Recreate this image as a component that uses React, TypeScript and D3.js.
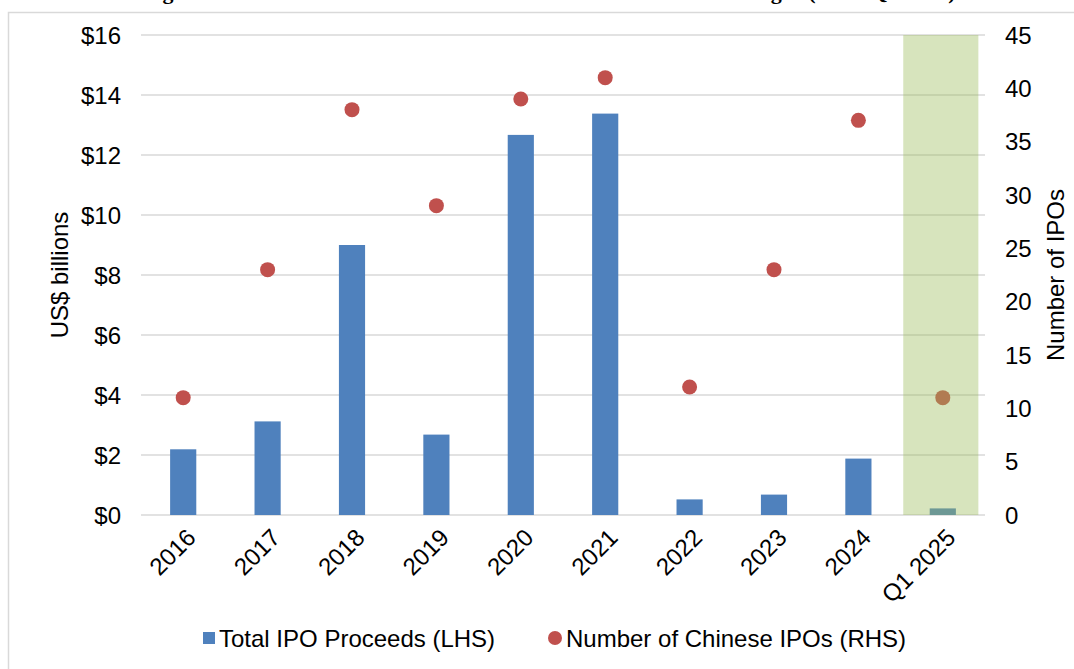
import { useEffect, useRef } from 'react';
import * as d3 from 'd3';

// values
const years = ['2016', '2017', '2018', '2019', '2020', '2021', '2022', '2023', '2024', 'Q1 2025'];
const proceeds = [2.19, 3.12, 9.0, 2.68, 12.67, 13.38, 0.52, 0.68, 1.88, 0.22]; // US$ bn (LHS)
const ipoCount = [11, 23, 38, 29, 39, 41, 12, 23, 37, 11]; // number of IPOs (RHS)
const leftTicks = [0, 2, 4, 6, 8, 10, 12, 14, 16];
const rightTicks = [0, 5, 10, 15, 20, 25, 30, 35, 40, 45];
const highlighted = ['Q1 2025'];

const W = 1074;
const H = 669;
const FONT = '"Liberation Sans", Arial, sans-serif';

export default function App() {
  const svgRef = useRef<SVGSVGElement | null>(null);

  useEffect(() => {
    const svg = d3.select(svgRef.current);
    svg.selectAll('*').remove();

    const m = { top: 35, right: 89, bottom: 154, left: 141 };
    const x0 = m.left, x1 = W - m.right;
    const y0 = H - m.bottom, y1 = m.top;

    const x = d3.scaleBand<string>().domain(years).range([x0, x1])
      .paddingInner(0.69).paddingOuter(0.345);
    const xShade = d3.scaleBand<string>().domain(years).range([x0 - 2, x1 - 2])
      .paddingInner(0.11).paddingOuter(0.055);
    const yL = d3.scaleLinear().domain([0, 16]).range([y0, y1]);
    const yR = d3.scaleLinear().domain([0, 45]).range([y0, y1]);

    // outer frame (cut by the page edge)
    svg.append('rect')
      .attr('x', 8.5).attr('y', 12.5).attr('width', W + 20).attr('height', H + 20)
      .attr('fill', 'none').attr('stroke', '#D9D9D9').attr('stroke-width', 1.5);

    // title, mostly above the visible area
    const title = svg.append('text')
      .attr('x', 143).attr('y', -1.5)
      .attr('font-family', '"Liberation Serif", "Times New Roman", serif')
      .attr('font-weight', 700).attr('font-size', 22).attr('fill', '#000');
    title.append('tspan').text('Figure 1: Chinese IPOs in the U.S.: Proceeds and Number of Listings');
    title.append('tspan').attr('dx', 18).text('(2016–Q1 2025)');

    // gridlines
    svg.append('g').selectAll('line').data(leftTicks).join('line')
      .attr('x1', x0).attr('x2', x1)
      .attr('y1', d => yL(d)).attr('y2', d => yL(d))
      .attr('stroke', '#D9D9D9').attr('stroke-width', 1.5);

    // bars
    svg.append('g').selectAll('rect').data(years).join('rect')
      .attr('x', d => x(d)!)
      .attr('width', x.bandwidth())
      .attr('y', (_, i) => yL(proceeds[i]))
      .attr('height', (_, i) => yL(0) - yL(proceeds[i]))
      .attr('fill', '#4F81BD');

    // dots
    svg.append('g').selectAll('circle').data(years).join('circle')
      .attr('cx', d => x(d)! + x.bandwidth() / 2)
      .attr('cy', (_, i) => yR(ipoCount[i]))
      .attr('r', 7.5)
      .attr('fill', '#C0504D');

    // highlight band
    svg.append('g').selectAll('rect').data(highlighted).join('rect')
      .attr('x', d => xShade(d)!)
      .attr('width', xShade.bandwidth())
      .attr('y', yR(45))
      .attr('height', yR(0) - yR(45))
      .attr('fill', '#9BBB59').attr('fill-opacity', 0.4);

    // left axis labels
    svg.append('g').selectAll('text').data(leftTicks).join('text')
      .attr('x', 121).attr('y', d => yL(d))
      .attr('dy', '0.36em').attr('text-anchor', 'end')
      .attr('font-family', FONT).attr('font-size', 24).attr('fill', '#000')
      .text(d => `$${d}`);

    // right axis labels
    svg.append('g').selectAll('text').data(rightTicks).join('text')
      .attr('x', 1005).attr('y', d => yR(d))
      .attr('dy', '0.36em').attr('text-anchor', 'start')
      .attr('font-family', FONT).attr('font-size', 24).attr('fill', '#000')
      .text(d => String(d));

    // category labels
    svg.append('g').selectAll('text').data(years).join('text')
      .attr('transform', d => `translate(${x(d)! + x.bandwidth() / 2 + 8},${y0 + 18}) rotate(-45)`)
      .attr('text-anchor', 'end').attr('dy', '0.36em')
      .attr('font-family', FONT).attr('font-size', 24).attr('fill', '#000')
      .text(d => d);

    // axis titles
    const midY = (y0 + y1) / 2;
    svg.append('text')
      .attr('transform', `translate(59,${midY}) rotate(-90)`)
      .attr('text-anchor', 'middle').attr('dominant-baseline', 'central')
      .attr('font-family', FONT).attr('font-size', 24).attr('fill', '#000')
      .text('US$ billions');
    svg.append('text')
      .attr('transform', `translate(1055,${midY}) rotate(-90)`)
      .attr('text-anchor', 'middle').attr('dominant-baseline', 'central')
      .attr('font-family', FONT).attr('font-size', 24).attr('fill', '#000')
      .text('Number of IPOs');

    // legend
    const lg = svg.append('g').attr('font-family', FONT).attr('font-size', 24).attr('fill', '#000');
    const ly = 638;
    lg.append('rect').attr('x', 203).attr('y', ly - 6).attr('width', 12).attr('height', 12).attr('fill', '#4F81BD');
    lg.append('text').attr('x', 219).attr('y', ly).attr('dy', '0.36em').text('Total IPO Proceeds (LHS)');
    lg.append('circle').attr('cx', 555).attr('cy', ly).attr('r', 7).attr('fill', '#C0504D');
    lg.append('text').attr('x', 566).attr('y', ly).attr('dy', '0.36em').text('Number of Chinese IPOs (RHS)');
  }, []);

  return (
    <div style={{ position: 'fixed', left: 0, top: 0, background: '#fff' }}>
      <svg ref={svgRef} width={W} height={H} style={{ display: 'block' }} />
    </div>
  );
}
